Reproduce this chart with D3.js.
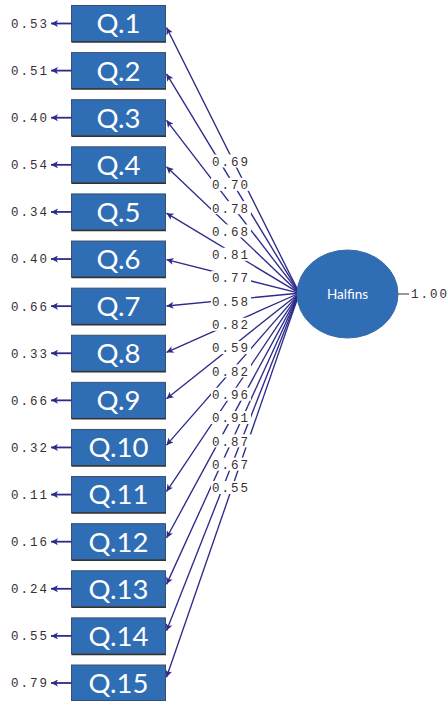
<!DOCTYPE html>
<html>
<head>
<meta charset="utf-8">
<script src="https://cdn.jsdelivr.net/npm/d3@7/dist/d3.min.js"></script>
<style>
  html, body { margin: 0; padding: 0; background: #fff; overflow: hidden; }
  svg { display: block; }
</style>
</head>
<body>
<svg id="chart" width="448" height="701"></svg>
<script>
// Observed items, standardized loadings on the factor, and error variances
const items = ["Q.1","Q.2","Q.3","Q.4","Q.5","Q.6","Q.7","Q.8","Q.9","Q.10","Q.11","Q.12","Q.13","Q.14","Q.15"];
const loadings = [0.69,0.70,0.78,0.68,0.81,0.77,0.58,0.82,0.59,0.82,0.96,0.91,0.87,0.67,0.55];
const errors = [0.53,0.51,0.40,0.54,0.34,0.40,0.66,0.33,0.66,0.32,0.11,0.16,0.24,0.55,0.79];
const factorName = "Halfins";
const factorVariance = 1.00;

const svg = d3.select("#chart");
const fmt = d3.format(".2f");

const ink = "#2d2b8a";
const boxFill = "#2f6db5";
const numColor = "#3a2f33";
const monoFont = "'Liberation Mono', 'DejaVu Sans Mono', monospace";

// Layout scales
const yItem = d3.scalePoint().domain(items).range([23.5, 683]);
const yLabel = d3.scalePoint().domain(items).range([161.5, 488]);
const boxX0 = 71.5, boxX1 = 165.5, boxH = 36;
const fac = { cx: 347.5, cy: 294, rx: 50.5, ry: 44 };
const startY = d3.scalePoint().domain(items).range([290.5, 297]);

// Arrowhead markers
const defs = svg.append("defs");
defs.append("marker")
  .attr("id", "arrow")
  .attr("viewBox", "0 0 10 10")
  .attr("refX", 10).attr("refY", 5)
  .attr("markerWidth", 9).attr("markerHeight", 7)
  .attr("markerUnits", "userSpaceOnUse")
  .attr("orient", "auto")
  .append("path")
  .attr("d", "M0,0 L10,5 L0,10 L2.5,5 Z")
  .attr("fill", ink);

// Loading paths from the factor to each item
const paths = svg.append("g");
items.forEach((q, i) => {
  const ty = yItem(q) + (fac.cy - yItem(q)) * 0.015;
  paths.append("line")
    .attr("x1", fac.cx - fac.rx + 1).attr("y1", startY(q))
    .attr("x2", boxX1 + 1).attr("y2", ty)
    .attr("stroke", ink).attr("stroke-width", 1.35)
    .attr("marker-end", "url(#arrow)");
});

// Loading labels on white backing
const labels = svg.append("g");
items.forEach((q, i) => {
  const g = labels.append("g").attr("transform", `translate(231,${yLabel(q)})`);
  g.append("rect").attr("x", -20).attr("y", -7).attr("width", 40).attr("height", 13).attr("fill", "#fff");
  g.append("text")
    .attr("text-anchor", "middle").attr("dy", "0.35em")
    .attr("font-family", monoFont).attr("font-size", 12.5)
    .attr("letter-spacing", 2)
    .attr("fill", numColor)
    .text(fmt(loadings[i]));
});

// Observed variable boxes
const boxes = svg.append("g");
items.forEach((q, i) => {
  const cy = yItem(q);
  boxes.append("rect")
    .attr("x", boxX0).attr("y", cy - boxH / 2)
    .attr("width", boxX1 - boxX0).attr("height", boxH)
    .attr("fill", boxFill).attr("stroke", "#3a4f6e").attr("stroke-width", 1);
  boxes.append("line")
    .attr("x1", boxX0).attr("x2", boxX1 + 0.5)
    .attr("y1", cy + boxH / 2 + 0.5).attr("y2", cy + boxH / 2 + 0.5)
    .attr("stroke", "#333").attr("stroke-width", 1.5);
  boxes.append("text")
    .attr("x", (boxX0 + boxX1) / 2).attr("y", cy)
    .attr("text-anchor", "middle").attr("dy", "0.36em")
    .attr("font-family", "Lato, 'Open Sans', sans-serif").attr("font-size", 27.5)
    .attr("fill", "#fff")
    .text(q);

  // Error term arrow and value
  boxes.append("line")
    .attr("x1", boxX0).attr("y1", cy)
    .attr("x2", 51).attr("y2", cy)
    .attr("stroke", ink).attr("stroke-width", 1.8)
    .attr("marker-end", "url(#arrow)");
  boxes.append("text")
    .attr("x", 11).attr("y", cy)
    .attr("dy", "0.35em")
    .attr("font-family", monoFont).attr("font-size", 12.5)
    .attr("letter-spacing", 2)
    .attr("fill", numColor)
    .text(fmt(errors[i]));
});

// Latent factor
svg.append("ellipse")
  .attr("cx", fac.cx).attr("cy", fac.cy).attr("rx", fac.rx).attr("ry", fac.ry)
  .attr("fill", boxFill).attr("stroke", "#3d6aa3").attr("stroke-width", 1);
svg.append("text")
  .attr("x", fac.cx).attr("y", fac.cy)
  .attr("text-anchor", "middle").attr("dy", "0.36em")
  .attr("font-family", "Lato, 'Open Sans', sans-serif").attr("font-size", 13.5)
  .attr("fill", "#fff")
  .text(factorName);

// Factor variance
svg.append("line")
  .attr("x1", fac.cx + fac.rx).attr("x2", fac.cx + fac.rx + 11)
  .attr("y1", fac.cy).attr("y2", fac.cy)
  .attr("stroke", "#555").attr("stroke-width", 1.2);
svg.append("text")
  .attr("x", 411).attr("y", fac.cy)
  .attr("dy", "0.35em")
  .attr("font-family", monoFont).attr("font-size", 12.5)
  .attr("letter-spacing", 2)
  .attr("fill", numColor)
  .text(fmt(factorVariance));
</script>
</body>
</html>
